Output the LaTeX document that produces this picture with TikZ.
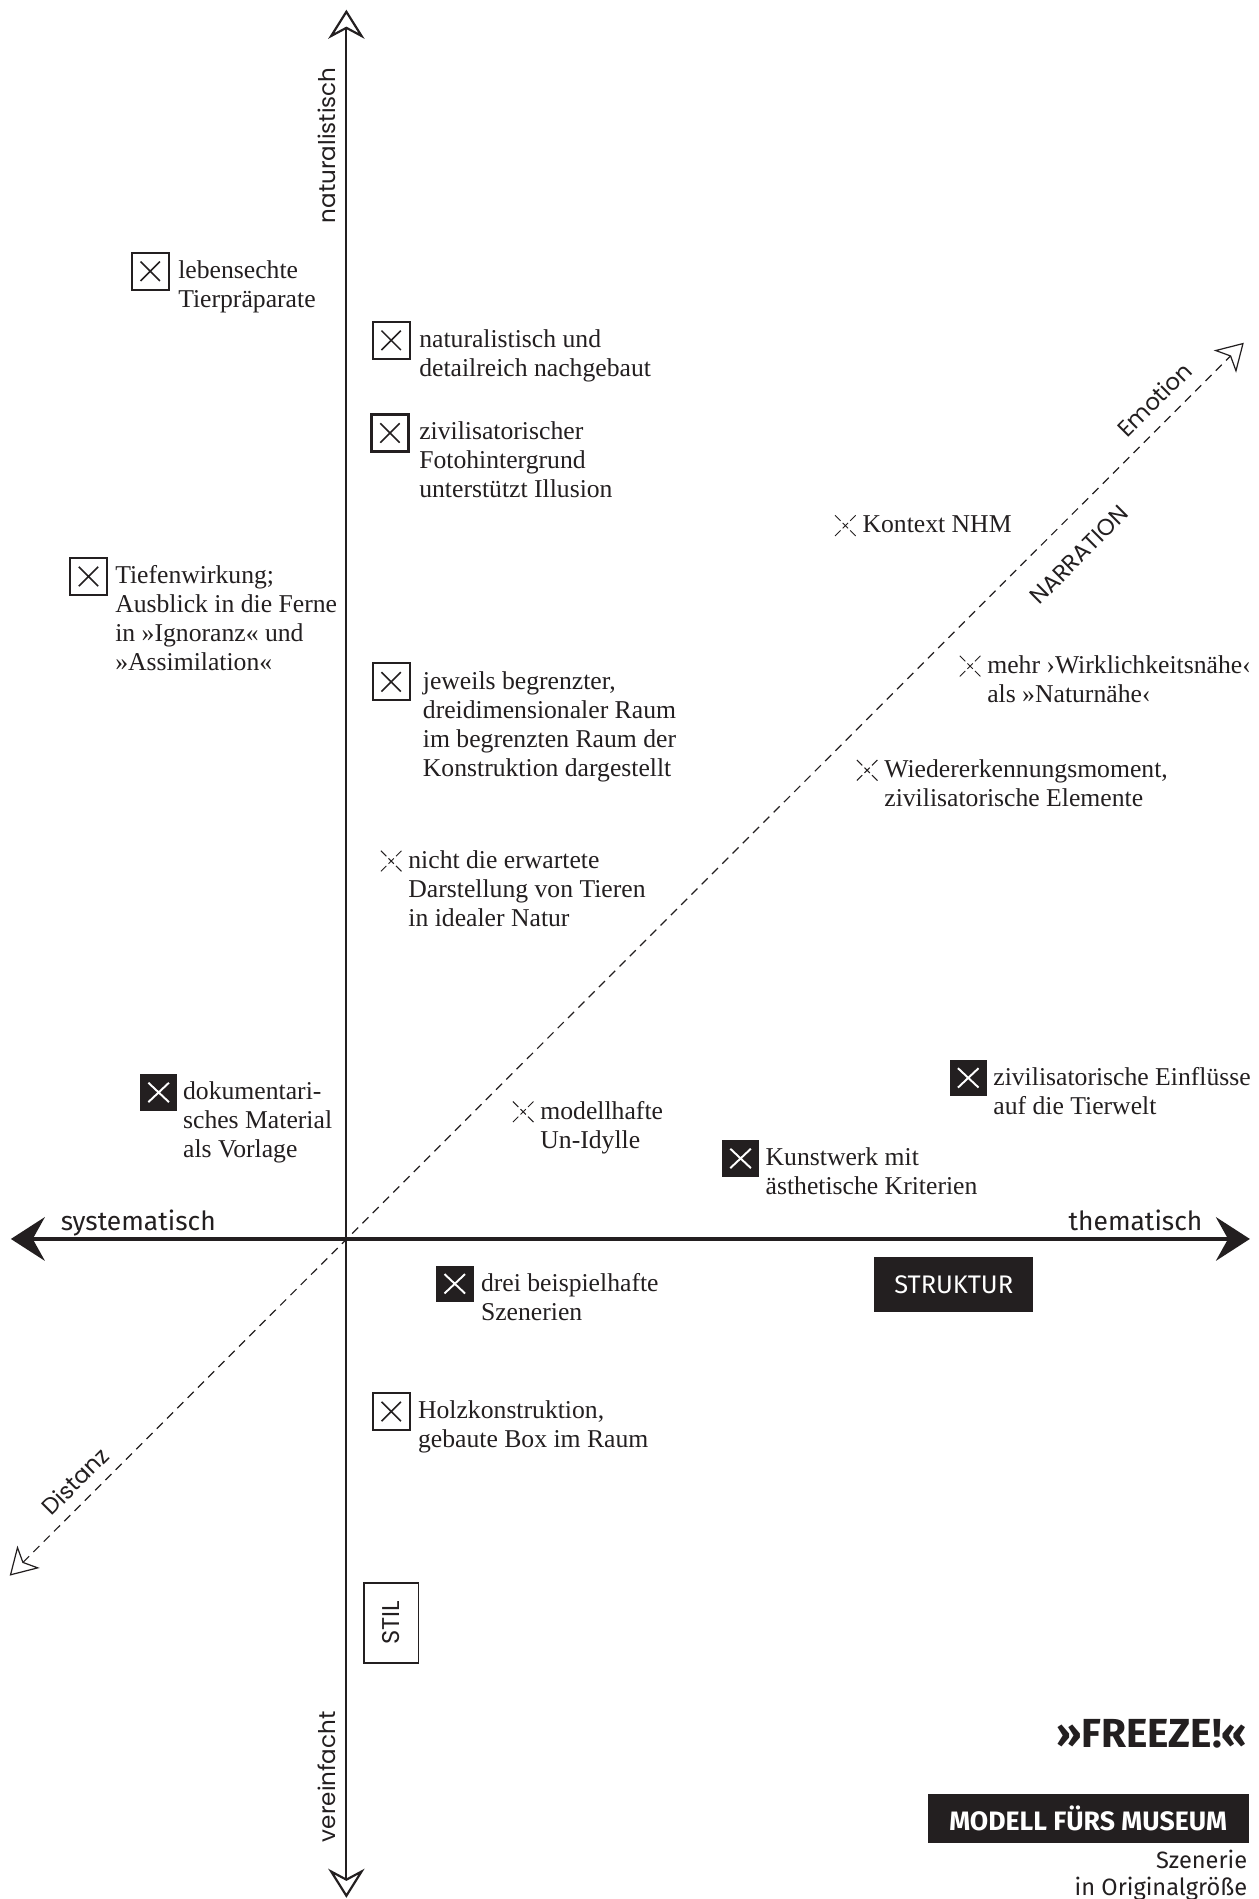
\documentclass[tikz,border=0pt]{standalone}
\usepackage{fontspec}
\setmainfont{Liberation Serif}
\newfontfamily\geofont{Poppins}
\newfontfamily\dinfont{Fira Sans}
\usetikzlibrary{arrows.meta}
\definecolor{ink}{HTML}{231F20}

\newcommand\itemlines[1]{\begin{tabular}[t]{@{}l@{}}#1\end{tabular}}
\newcommand\xmark[4]{\draw[#4] ([shift={(-#2,-#3)}]#1.center) -- ([shift={(#2,#3)}]#1.center) ([shift={(#2,-#3)}]#1.center) -- ([shift={(-#2,#3)}]#1.center);}
\newcommand\dxmark[1]{\draw[dxline]
 ([shift={(-8.5,-8.5)}]#1.center) -- ([shift={(-4,-4)}]#1.center)
 ([shift={(-2.2,-2.2)}]#1.center) -- ([shift={(2.2,2.2)}]#1.center)
 ([shift={(4,4)}]#1.center) -- ([shift={(8.5,8.5)}]#1.center)
 ([shift={(8.5,-8.5)}]#1.center) -- ([shift={(4,-4)}]#1.center)
 ([shift={(2.2,-2.2)}]#1.center) -- ([shift={(-2.2,2.2)}]#1.center)
 ([shift={(-4,4)}]#1.center) -- ([shift={(-8.5,8.5)}]#1.center);}

\tikzset{
  obox/.style={draw=ink, line width=1.8pt, minimum width=30.5pt, minimum height=30.5pt, inner sep=0pt},
  blkbox/.style={fill=ink, minimum width=31pt, minimum height=30pt, inner sep=0pt},
  dxn/.style={minimum size=17pt, inner sep=0pt},
  oxl/.style={ink, line width=1.3pt},
  wxl/.style={white, line width=1.6pt},
  dxline/.style={ink, line width=0.8pt},
  txt/.style={anchor=base west, inner sep=0pt, text=ink, font=\fontsize{21.2}{24}\selectfont},
  geo/.style={text=ink, inner sep=0pt, font=\geofont\fontsize{19}{22}\selectfont},
  din/.style={text=ink, inner sep=0pt, font=\dinfont\fontsize{21.8}{24}\selectfont},
  openhead/.tip={Stealth[open, length=24pt, width=30pt, inset=8pt]},
  fullhead/.tip={Stealth[length=28pt, width=36pt, inset=10pt]},
  diaghead/.tip={Stealth[open, length=22pt, width=26pt, inset=6pt]},
}

\begin{document}
\begin{tikzpicture}[x=1pt,y=-1pt]
\path[use as bounding box, fill=white] (0,0) rectangle (1039,1568);

% axes
\coordinate (vtop) at (286,8);
\coordinate (vbot) at (286,1567);
\coordinate (hl) at (9,1023);
\coordinate (hr) at (1032,1023);
\coordinate (dlo) at (8,1301);
\coordinate (dhi) at (1027,283);

\draw[ink, line width=1pt, dash pattern=on 7pt off 5pt, {diaghead}-{diaghead}] (dlo) -- (dhi);
\draw[ink, line width=1.8pt, {openhead}-{openhead}] (vbot) -- (vtop);
\draw[ink, line width=2.8pt, {fullhead}-{fullhead}] (hl) -- (hr);

% axis labels
\node[geo, rotate=90] (natl) at (270,120) {naturalistisch};
\node[geo, rotate=90] (vereinf) at (270,1467) {vereinfacht};
\node[din, anchor=base west] (sys) at (50,1016) {systematisch};
\node[din, anchor=base east] (them) at (993,1016) {thematisch};
\node[geo, rotate=45] (emo) at (953,330) {Emotion};
\node[geo, rotate=45, font=\geofont\fontsize{19}{22}\selectfont] (narr) at (891,458) {NARRATION};
\node[geo, rotate=45] (dist) at (62,1223) {Distanz};

% items
\node[obox] (ma) at (124,224) {}; \xmark{ma}{8}{8}{oxl}
\node[txt] (ta) at (147,230) {\itemlines{lebensechte\\Tierpräparate}};

\node[obox] (mb) at (323,281) {}; \xmark{mb}{8}{8}{oxl}
\node[txt] (tb) at (346,287) {\itemlines{naturalistisch und\\detailreich nachgebaut}};

\node[obox] (mc) at (322,357.5) {}; \xmark{mc}{8}{8}{oxl}
\node[txt] (tc) at (346,363) {\itemlines{zivilisatorischer\\Fotohintergrund\\unterstützt Illusion}};

\node[obox] (md) at (73,476) {}; \xmark{md}{8}{8}{oxl}
\node[txt] (td) at (95,482) {\itemlines{Tiefenwirkung;\\Ausblick in die Ferne\\in »Ignoranz« und\\»Assimilation«}};

\node[obox] (me) at (323,563) {}; \xmark{me}{8}{8}{oxl}
\node[txt] (te) at (349,569) {\itemlines{jeweils begrenzter,\\dreidimensionaler Raum\\im begrenzten Raum der\\Konstruktion dargestellt}};

\node[dxn] (mf) at (323,711) {}; \dxmark{mf}
\node[txt] (tf) at (337,717) {\itemlines{nicht die erwartete\\Darstellung von Tieren\\in idealer Natur}};

\node[dxn] (mg) at (698,434) {}; \dxmark{mg}
\node[txt] (tg) at (712,440) {\itemlines{Kontext NHM}};

\node[dxn] (mh) at (801,550) {}; \dxmark{mh}
\node[txt] (th) at (815,556) {\itemlines{mehr ›Wirklichkeitsnähe‹\\als »Naturnähe‹}};

\node[dxn] (mi) at (716,636) {}; \dxmark{mi}
\node[txt] (ti) at (730,642) {\itemlines{Wiedererkennungsmoment,\\zivilisatorische Elemente}};

\node[blkbox] (mj) at (131,902) {}; \xmark{mj}{8.5}{8}{wxl}
\node[txt] (tj) at (151,908) {\itemlines{dokumentari-\\sches Material\\als Vorlage}};

\node[dxn] (mk) at (432,918) {}; \dxmark{mk}
\node[txt] (tk) at (446,924) {\itemlines{modellhafte\\Un-Idylle}};

\node[blkbox] (ml) at (799.5,890) {}; \xmark{ml}{8.5}{8}{wxl}
\node[txt] (tl) at (820,896) {\itemlines{zivilisatorische Einflüsse\\auf die Tierwelt}};

\node[blkbox] (mm) at (611.5,956.5) {}; \xmark{mm}{8.5}{8}{wxl}
\node[txt] (tm) at (632,962) {\itemlines{Kunstwerk mit\\ästhetische Kriterien}};

\node[blkbox] (mn) at (375.5,1060) {}; \xmark{mn}{8.5}{8}{wxl}
\node[txt] (tn) at (397,1066) {\itemlines{drei beispielhafte\\Szenerien}};

\node[obox] (mo) at (323,1165.5) {}; \xmark{mo}{8}{8}{oxl}
\node[txt] (to) at (345,1171) {\itemlines{Holzkonstruktion,\\gebaute Box im Raum}};

% category labels
\node[din, fill=ink, text=white, minimum width=131pt, minimum height=45pt, font=\dinfont\fontsize{21}{24}\selectfont] (struk) at (787.5,1060.5) {STRUKTUR};
\node[geo, draw=ink, line width=1.3pt, rotate=90, minimum width=66pt, minimum height=45pt, font=\geofont\fontsize{20}{22}\selectfont] (stil) at (323,1340) {STIL};

% title block
\node[din, anchor=base east, font=\dinfont\bfseries\fontsize{33.5}{38}\selectfont] (freeze) at (1030,1443) {»FREEZE!«};
\node[din, fill=ink, text=white, minimum width=265pt, minimum height=41pt, font=\dinfont\bfseries\fontsize{22}{24}\selectfont] (modell) at (898.5,1501.5) {MODELL FÜRS MUSEUM};
\node[din, anchor=base east, font=\dinfont\fontsize{19.5}{22}\selectfont] (szen) at (1030,1543) {Szenerie};
\node[din, anchor=base east, font=\dinfont\fontsize{19.5}{22}\selectfont] (orig) at (1030,1565) {in Originalgröße};
\end{tikzpicture}
\end{document}
